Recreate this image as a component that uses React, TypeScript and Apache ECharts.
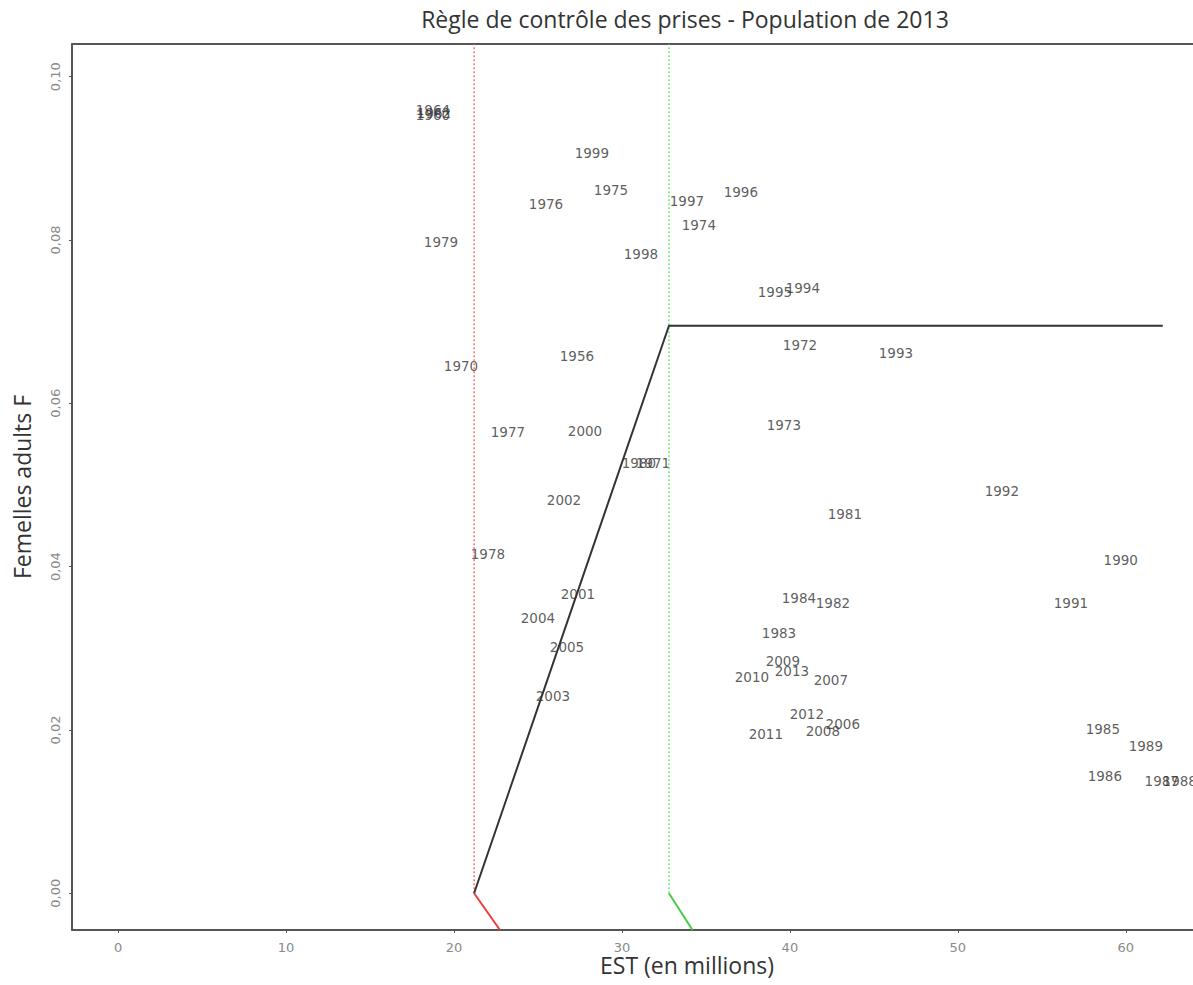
import React, { useEffect, useRef } from "react";
import * as echarts from "echarts";

const years = [
  "1999", "1975", "1996", "1976", "1997", "1974", "1979", "1998", "1995", "1994",
  "1972", "1993", "1970", "1956", "1973", "1977", "2000", "1980", "1971", "2002",
  "1992", "1981", "1978", "1990", "2001", "1984", "1982", "1991", "2004", "1983",
  "2005", "2009", "2013", "2010", "2007", "2012", "2006", "2008", "2011", "2003",
  "1985", "1989", "1986", "1987", "1988", "1960", "1962", "1964",
];
const estMillions = [
  28.21, 29.35, 37.08, 25.48, 33.87, 34.58, 19.23, 31.13, 39.11, 40.77,
  40.6, 46.31, 20.42, 27.32, 39.64, 23.21, 27.8, 31.01, 31.85, 26.55,
  52.62, 43.27, 22.02, 59.7, 27.38, 40.54, 42.56, 56.73, 25.0, 39.35,
  26.73, 39.58, 40.12, 37.74, 42.44, 41.01, 43.15, 41.96, 38.57, 25.89,
  58.63, 61.19, 58.75, 62.14, 63.21, 18.75, 18.81, 18.75,
];
const femalesF = [
  0.0906, 0.0861, 0.0859, 0.0844, 0.0848, 0.0818, 0.0797, 0.0783, 0.0736, 0.0741,
  0.0671, 0.0661, 0.0646, 0.0658, 0.0574, 0.0565, 0.0566, 0.0527, 0.0527, 0.0482,
  0.0493, 0.0465, 0.0416, 0.0408, 0.0367, 0.0362, 0.0356, 0.0356, 0.0337, 0.0319,
  0.0302, 0.0284, 0.0272, 0.0265, 0.0261, 0.022, 0.0207, 0.0199, 0.0195, 0.0241,
  0.0201, 0.018, 0.0144, 0.0137, 0.0137, 0.0953, 0.0956, 0.0959,
];

// Harvest control rule
const hcrX = [21.2, 32.8, 62.2];
const hcrY = [0, 0.0695, 0.0695];
const lrpLineX = [21.2, 21.2];
const lrpLineY = [0, 0.104];
const usrLineX = [32.8, 32.8];
const usrLineY = [0, 0.104];
const lrpTailX = [21.2, 22.74];
const lrpTailY = [0, -0.0045];
const usrTailX = [32.8, 34.2];
const usrTailY = [0, -0.0045];

const xTicks = [0, 10, 20, 30, 40, 50, 60];
const yTicks = [0, 0.02, 0.04, 0.06, 0.08, 0.1];

const titleText = "Règle de contrôle des prises - Population de 2013";
const xName = "EST (en millions)";
const yName = "Femelles adults F";

const pairs = (xs: number[], ys: number[]) => xs.map((x, i) => [x, ys[i]]);

export default function App() {
  const ref = useRef<HTMLDivElement>(null);
  useEffect(() => {
    if (!ref.current) return;
    const chart = echarts.init(ref.current, null, { renderer: "svg" });
    const axisColor = "#555";
    const nameFont = { fontFamily: "Open Sans", fontSize: 23, fill: "#333" };
    chart.setOption({
      animation: false,
      backgroundColor: "#fff",
      graphic: [
        {
          type: "text",
          x: 685,
          y: 19,
          style: { text: titleText, ...nameFont, textAlign: "center", textVerticalAlign: "middle" },
        },
        {
          type: "text",
          x: 687,
          y: 965,
          style: { text: xName, ...nameFont, textAlign: "center", textVerticalAlign: "middle" },
        },
        {
          type: "text",
          x: 22,
          y: 487,
          rotation: Math.PI / 2,
          style: { text: yName, ...nameFont, textAlign: "center", textVerticalAlign: "middle" },
        },
      ],
      grid: { left: 72, top: 44, right: 0, height: 886 },
      xAxis: [
        {
          type: "value",
          min: -2.74,
          max: 64,
          axisLine: { show: true, onZero: false, lineStyle: { color: axisColor, width: 2 } },
          axisTick: { show: true, length: 3, customValues: xTicks, lineStyle: { color: axisColor } },
          axisLabel: {
            customValues: xTicks,
            margin: 11,
            fontFamily: "DejaVu Sans",
            fontSize: 13,
            color: "#8a8a8a",
          },
          splitLine: { show: false },
        },
        {
          type: "value",
          position: "top",
          min: -2.74,
          max: 64,
          axisLine: { show: true, onZero: false, lineStyle: { color: axisColor, width: 2 } },
          axisTick: { show: false },
          axisLabel: { show: false },
          splitLine: { show: false },
        },
      ],
      yAxis: {
        type: "value",
        min: -0.0045,
        max: 0.104,
        axisLine: { show: true, onZero: false, lineStyle: { color: axisColor, width: 2 } },
        axisTick: { show: true, length: 3, customValues: yTicks, lineStyle: { color: axisColor } },
        axisLabel: {
          customValues: yTicks,
          rotate: 90,
          margin: 10,
          fontFamily: "DejaVu Sans",
          fontSize: 13,
          color: "#8a8a8a",
          formatter: (v: number) => v.toFixed(2).replace(".", ","),
        },
        splitLine: { show: false },
      },
      series: [
        {
          type: "line",
          data: pairs(lrpLineX, lrpLineY),
          symbol: "none",
          lineStyle: { color: "#ff4a4a", width: 1.2, type: [2, 2] },
        },
        {
          type: "line",
          data: pairs(usrLineX, usrLineY),
          symbol: "none",
          lineStyle: { color: "#55dd55", width: 1.2, type: [2, 2] },
        },
        {
          type: "line",
          data: pairs(lrpTailX, lrpTailY),
          symbol: "none",
          lineStyle: { color: "#f03c3c", width: 2 },
        },
        {
          type: "line",
          data: pairs(usrTailX, usrTailY),
          symbol: "none",
          lineStyle: { color: "#44cc44", width: 2 },
        },
        {
          type: "line",
          data: pairs(hcrX, hcrY),
          symbol: "none",
          lineStyle: { color: "#333", width: 2 },
        },
        {
          type: "scatter",
          symbolSize: 0,
          data: estMillions.map((x, i) => [x, femalesF[i], years[i]]),
          label: {
            show: true,
            position: "inside",
            formatter: (p: any) => p.value[2],
            fontFamily: "DejaVu Sans",
            fontSize: 13.5,
            color: "#333",
          },
        },
      ],
    });
    return () => chart.dispose();
  }, []);
  return (
    <div
      ref={ref}
      style={{ position: "fixed", left: 0, top: 0, width: 1193, height: 985 }}
    />
  );
}
